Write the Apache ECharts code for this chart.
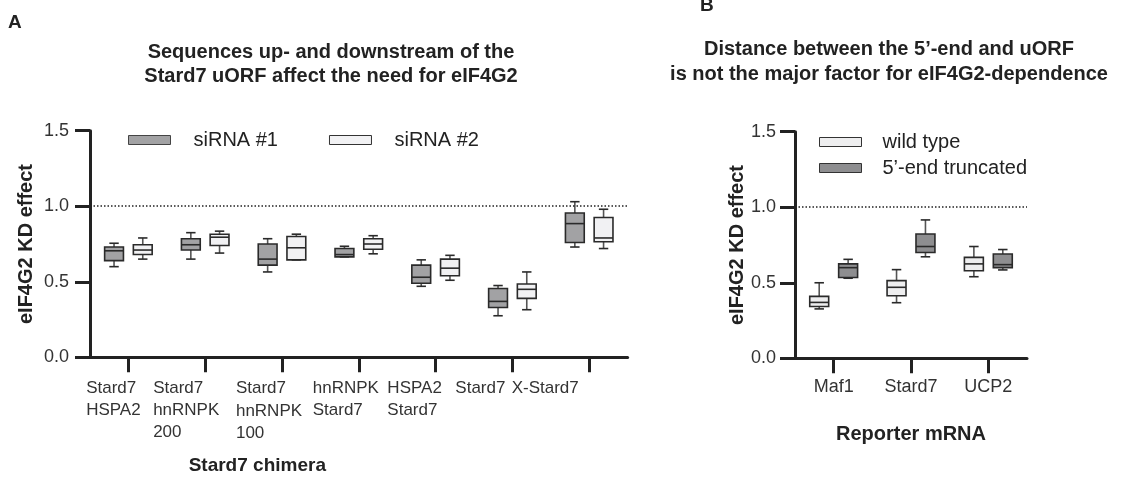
<!DOCTYPE html>
<html><head><meta charset="utf-8">
<script src="https://cdn.jsdelivr.net/npm/echarts@6/dist/echarts.min.js"></script>
<style>html,body{margin:0;padding:0;background:#fff}#c{width:1121px;height:477px}</style>
</head><body><div id="c"></div>
<script>
// ---- data ----
const categoriesA = ['Stard7\nHSPA2', 'Stard7\nhnRNPK\n200', 'Stard7\nhnRNPK\n100', 'hnRNPK\nStard7', 'HSPA2\nStard7', 'Stard7', 'X-Stard7'];
// [min, Q1, median, Q3, max]
const sirna1 = [
  [0.60, 0.64, 0.705, 0.73, 0.755],
  [0.65, 0.71, 0.745, 0.785, 0.825],
  [0.565, 0.61, 0.65, 0.75, 0.785],
  [0.665, 0.665, 0.68, 0.72, 0.735],
  [0.47, 0.49, 0.53, 0.61, 0.645],
  [0.275, 0.33, 0.37, 0.455, 0.475],
  [0.73, 0.76, 0.885, 0.955, 1.03]
];
const sirna2 = [
  [0.65, 0.68, 0.71, 0.745, 0.79],
  [0.69, 0.74, 0.795, 0.815, 0.835],
  [0.645, 0.645, 0.725, 0.80, 0.815],
  [0.685, 0.715, 0.75, 0.785, 0.805],
  [0.51, 0.54, 0.59, 0.65, 0.675],
  [0.315, 0.39, 0.45, 0.485, 0.565],
  [0.72, 0.765, 0.79, 0.925, 0.98]
];
const categoriesB = ['Maf1', 'Stard7', 'UCP2'];
const wildType = [
  [0.327, 0.343, 0.37, 0.41, 0.50],
  [0.368, 0.414, 0.47, 0.514, 0.587],
  [0.54, 0.58, 0.625, 0.668, 0.74]
];
const truncated = [
  [0.53, 0.535, 0.60, 0.625, 0.655],
  [0.672, 0.70, 0.74, 0.823, 0.916],
  [0.585, 0.60, 0.62, 0.69, 0.72]
];
const yTicks = [0.0, 0.5, 1.0, 1.5];
const refLine = 1.0;

// ---- styles ----
const FONT = 'Liberation Sans, Arial, Helvetica, sans-serif';
const INK = '#222';
const darkA = '#a2a2a4', lightA = '#f1f1f3';
const darkB = '#8e8e90', lightB = '#eeeeef';

function boxRenderer(side, fill, stroke, whisker) {
  return function (params, api) {
    const i = api.value(0);
    const band = api.size([1, 0])[0];
    const w = band * 0.245;
    const cx = api.coord([i, 0])[0] + side * band * 0.187;
    const y = k => api.coord([i, api.value(k)])[1];
    const yMin = y(1), yQ1 = y(2), yMed = y(3), yQ3 = y(4), yMax = y(5);
    const ws = {stroke: whisker, lineWidth: 1.6};
    const bs = {stroke: stroke, lineWidth: 1.6};
    return {type: 'group', children: [
      {type: 'line', shape: {x1: cx, y1: yQ3, x2: cx, y2: yMax}, style: ws},
      {type: 'line', shape: {x1: cx, y1: yQ1, x2: cx, y2: yMin}, style: ws},
      {type: 'line', shape: {x1: cx - w / 4, y1: yMax, x2: cx + w / 4, y2: yMax}, style: bs},
      {type: 'line', shape: {x1: cx - w / 4, y1: yMin, x2: cx + w / 4, y2: yMin}, style: bs},
      {type: 'rect', shape: {x: cx - w / 2, y: yQ3, width: w, height: yQ1 - yQ3}, style: {fill: fill, stroke: stroke, lineWidth: 1.6}},
      {type: 'line', shape: {x1: cx - w / 2, y1: yMed, x2: cx + w / 2, y2: yMed}, style: bs}
    ]};
  };
}

function boxSeries(name, arr, gridIdx, side, fill, stroke, whisker) {
  return {
    name: name, type: 'custom', xAxisIndex: gridIdx, yAxisIndex: gridIdx,
    renderItem: boxRenderer(side, fill, stroke, whisker),
    itemStyle: {color: fill},
    encode: {x: 0, y: [1, 2, 3, 4, 5]},
    data: arr.map((d, i) => [i].concat(d)),
    silent: true
  };
}

function refSeries(gridIdx, n) {
  return {
    type: 'line', xAxisIndex: gridIdx, yAxisIndex: gridIdx, data: new Array(n).fill(null),
    showSymbol: false, silent: true,
    markLine: {silent: true, symbol: ['none', 'none'], label: {show: false},
      lineStyle: {color: INK, width: 1.5, type: [1.5, 2]},
      data: [{yAxis: refLine}]}
  };
}

function yAxisDef(gridIdx, gap, margin) {
  return {
    type: 'value', gridIndex: gridIdx,
    min: yTicks[0], max: yTicks[yTicks.length - 1], interval: yTicks[1] - yTicks[0],
    name: 'eIF4G2 KD effect', nameLocation: 'middle', nameGap: gap,
    nameTextStyle: {fontFamily: FONT, fontSize: 20, fontWeight: 'bold', color: INK},
    axisLine: {show: true, lineStyle: {color: INK, width: 3}},
    axisTick: {show: true, length: 15, lineStyle: {color: INK, width: 3}},
    axisLabel: {margin: margin, fontFamily: FONT, fontSize: 18, color: '#333', formatter: v => v.toFixed(1)},
    splitLine: {show: false}
  };
}

// label offsets (padding right) so that multi-line labels sit left-aligned like the reference
const labelPad = [30, 38, 26, 26, 42, 64, 88];
const richA = {};
labelPad.forEach((p, i) => {
  richA['c' + i] = {fontFamily: FONT, fontSize: 17, color: '#333', lineHeight: 22, align: 'left', padding: [0, p, 0, 0]};
});
richA.c2.padding = [0, 26, 0, 0];
richA.c2.lineHeight = 22.5;

const option = {
  backgroundColor: '#fff',
  animation: false,
  title: [
    {text: 'A', left: 8, top: 13, padding: 0, textStyle: {fontFamily: FONT, fontSize: 19, fontWeight: 'bold', color: INK}},
    {text: 'B', left: 700, top: -4, padding: 0, textStyle: {fontFamily: FONT, fontSize: 19, fontWeight: 'bold', color: INK}},
    {text: 'Sequences up- and downstream of the\nStard7 uORF affect the need for eIF4G2', left: 331, top: 40, textAlign: 'center', padding: 0,
      textStyle: {fontFamily: FONT, fontSize: 20, fontWeight: 'bold', lineHeight: 24, color: INK}},
    {text: 'Distance between the 5\u2019-end and uORF\nis not the major factor for eIF4G2-dependence', left: 889, top: 37, textAlign: 'center', padding: 0,
      textStyle: {fontFamily: FONT, fontSize: 20, fontWeight: 'bold', lineHeight: 25, color: INK}}
  ],
  legend: [
    {orient: 'horizontal', left: 123, top: 125, itemWidth: 42, itemHeight: 9, itemGap: 51, selectedMode: false,
      textStyle: {fontFamily: FONT, fontSize: 20, color: INK, lineHeight: 20, padding: [0, 0, 0, 18]},
      data: [
        {name: 'siRNA #1', icon: 'rect', itemStyle: {color: darkA, borderColor: '#444', borderWidth: 1}},
        {name: 'siRNA #2', icon: 'rect', itemStyle: {color: lightA, borderColor: '#333', borderWidth: 1}}
      ]},
    {orient: 'vertical', left: 814, top: 127, itemWidth: 42, itemHeight: 9, itemGap: 6, selectedMode: false,
      textStyle: {fontFamily: FONT, fontSize: 20, color: INK, lineHeight: 20, padding: [0, 0, 0, 16]},
      data: [
        {name: 'wild type', icon: 'rect', itemStyle: {color: lightB, borderColor: '#333', borderWidth: 1}},
        {name: '5\u2019-end truncated', icon: 'rect', itemStyle: {color: darkB, borderColor: '#333', borderWidth: 1}}
      ]}
  ],
  grid: [
    {left: 90, top: 130.7, width: 537.6, height: 226.6},
    {left: 795, top: 131.7, width: 232, height: 226.6}
  ],
  xAxis: [
    {type: 'category', gridIndex: 0, data: categoriesA,
      name: 'Stard7 chimera', nameLocation: 'middle', nameGap: 99,
      nameTextStyle: {fontFamily: FONT, fontSize: 19, fontWeight: 'bold', color: INK, padding: [0, 203, 0, 0]},
      axisLine: {show: true, lineStyle: {color: INK, width: 3}},
      axisTick: {show: true, interval: 0, alignWithLabel: true, length: 15, lineStyle: {color: INK, width: 3}},
      axisLabel: {interval: 0, margin: 20, align: 'center', rich: richA,
        formatter: (v, i) => v.split('\n').map(l => '{c' + i + '|' + l + '}').join('\n')},
      splitLine: {show: false}},
    {type: 'category', gridIndex: 1, data: categoriesB,
      name: 'Reporter mRNA', nameLocation: 'middle', nameGap: 66,
      nameTextStyle: {fontFamily: FONT, fontSize: 20, fontWeight: 'bold', color: INK},
      axisLine: {show: true, lineStyle: {color: INK, width: 3}},
      axisTick: {show: true, interval: 0, alignWithLabel: true, length: 15, lineStyle: {color: INK, width: 3}},
      axisLabel: {interval: 0, margin: 18, fontFamily: FONT, fontSize: 18, color: '#333', lineHeight: 22},
      splitLine: {show: false}}
  ],
  yAxis: [yAxisDef(0, 54, 21), yAxisDef(1, 43, 19)],
  series: [
    refSeries(0, categoriesA.length),
    refSeries(1, categoriesB.length),
    boxSeries('siRNA #1', sirna1, 0, -1, darkA, '#2a2a2a', '#555'),
    boxSeries('siRNA #2', sirna2, 0, 1, lightA, '#2a2a2a', '#555'),
    boxSeries('wild type', wildType, 1, -1, lightB, '#2a2a2a', '#555'),
    boxSeries('5\u2019-end truncated', truncated, 1, 1, darkB, '#2a2a2a', '#555')
  ]
};
const chart = echarts.init(document.getElementById('c'), null, {renderer: 'canvas'});
chart.setOption(option);
</script>
</body></html>
